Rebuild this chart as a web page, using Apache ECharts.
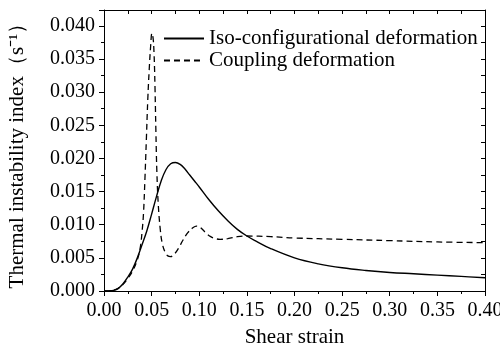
<!DOCTYPE html>
<html>
<head>
<meta charset="utf-8">
<script src="https://cdn.jsdelivr.net/npm/echarts@6/dist/echarts.min.js"></script>
<style>html,body{margin:0;padding:0;background:#fff}#c{width:500px;height:348px}</style>
</head>
<body>
<div id="c"></div>
<script>
var seriesNames = ['Iso-configurational deformation', 'Coupling deformation'];
var xTitle = 'Shear strain';
var yTitle = 'Thermal instability index\uFF08s\u207B\u00B9\uFF09';

var isoX = [0, 0.005, 0.010, 0.015, 0.020, 0.025, 0.030, 0.035, 0.040, 0.045, 0.050, 0.055, 0.060, 0.065, 0.070, 0.075, 0.080, 0.085, 0.090, 0.095, 0.100, 0.110, 0.120, 0.130, 0.140, 0.150, 0.160, 0.175, 0.200, 0.225, 0.250, 0.275, 0.300, 0.325, 0.350, 0.375, 0.400];
var isoY = [0, 0.00002, 0.0001, 0.0004, 0.0011, 0.0021, 0.0033, 0.0050, 0.0070, 0.0091, 0.0116, 0.0142, 0.0166, 0.0183, 0.0192, 0.0194, 0.0191, 0.0184, 0.0175, 0.0166, 0.0157, 0.0138, 0.0121, 0.0106, 0.0093, 0.0083, 0.0075, 0.0064, 0.0050, 0.0041, 0.0035, 0.0031, 0.0028, 0.0026, 0.0024, 0.0022, 0.0020];

var coupX = [0, 0.005, 0.010, 0.015, 0.020, 0.025, 0.030, 0.035, 0.038, 0.040, 0.0415, 0.043, 0.0445, 0.046, 0.0475, 0.049, 0.0503, 0.0515, 0.0525, 0.0535, 0.0545, 0.0555, 0.057, 0.059, 0.061, 0.064, 0.067, 0.070, 0.074, 0.078, 0.083, 0.088, 0.093, 0.097, 0.100, 0.104, 0.108, 0.112, 0.117, 0.122, 0.130, 0.140, 0.150, 0.175, 0.200, 0.250, 0.300, 0.350, 0.400];
var coupY = [0, 0.00002, 0.0001, 0.0004, 0.0010, 0.0019, 0.0030, 0.0047, 0.0065, 0.0090, 0.0118, 0.0170, 0.0230, 0.0290, 0.0335, 0.0370, 0.0389, 0.0382, 0.0360, 0.0310, 0.0240, 0.0180, 0.0130, 0.0094, 0.0073, 0.0059, 0.0053, 0.0052, 0.0056, 0.0064, 0.0077, 0.0088, 0.0095, 0.0098, 0.0097, 0.0092, 0.0086, 0.0082, 0.0079, 0.0078, 0.0079, 0.0082, 0.0083, 0.0082, 0.0080, 0.0078, 0.0076, 0.0074, 0.0073];

function zip(xs, ys) { return xs.map(function (x, i) { return [x, ys[i]]; }); }

var FONT = '"Liberation Serif", "Times New Roman", serif';
var chart = echarts.init(document.getElementById('c'), null, { renderer: 'canvas' });

function baseAxis(extra) {
  var a = {
    type: 'value',
    axisLine: { show: true, onZero: false, lineStyle: { color: '#000', width: 1 } },
    splitLine: { show: false },
    minorSplitLine: { show: false }
  };
  for (var k in extra) a[k] = extra[k];
  return a;
}

chart.setOption({
  animation: false,
  backgroundColor: '#fff',
  grid: { left: 104, right: 15, top: 10, bottom: 57, containLabel: false, outerBoundsMode: 'none' },
  legend: {
    orient: 'vertical',
    left: 163,
    top: 28,
    padding: 0,
    itemWidth: 40,
    itemHeight: 14,
    itemGap: 1,
    itemStyle: { opacity: 0 },
    textStyle: { fontFamily: FONT, fontSize: 21, color: '#000', padding: [0, 0, 0, 0] },
    data: seriesNames
  },
  xAxis: [
    baseAxis({
      position: 'bottom', min: 0, max: 0.4, interval: 0.05,
      name: xTitle, nameLocation: 'middle', nameGap: 36,
      nameTextStyle: { fontFamily: FONT, fontSize: 21, color: '#000' },
      axisTick: { show: true, inside: false, length: 5, lineStyle: { color: '#000' } },
      minorTick: { show: true, splitNumber: 2, length: 3, lineStyle: { color: '#000' } },
      axisLabel: { fontFamily: FONT, fontSize: 20, color: '#000', margin: 10,
        formatter: function (v) { return v.toFixed(2); } }
    }),
    baseAxis({
      position: 'top', min: 0, max: 0.4, interval: 0.05,
      axisTick: { show: true, inside: true, length: 4, lineStyle: { color: '#000' } },
      minorTick: { show: true, splitNumber: 2, length: 4, lineStyle: { color: '#000' } },
      axisLabel: { show: false }
    })
  ],
  yAxis: [
    baseAxis({
      position: 'left', min: 0, max: 0.0424, interval: 0.005,
      name: yTitle, nameLocation: 'middle', nameGap: 76, nameRotate: 90,
      nameTextStyle: { fontFamily: FONT, fontSize: 21, color: '#000' },
      axisTick: { show: true, inside: false, length: 5, lineStyle: { color: '#000' } },
      minorTick: { show: true, splitNumber: 2, length: 3, lineStyle: { color: '#000' } },
      axisLabel: { fontFamily: FONT, fontSize: 20, color: '#000', margin: 9, showMaxLabel: false,
        formatter: function (v) {
          var r = Math.round(v / 0.005);
          if (Math.abs(v - r * 0.005) > 1e-9) return '';
          return v.toFixed(3);
        } }
    }),
    baseAxis({
      position: 'right', min: 0, max: 0.0424, interval: 0.005,
      axisTick: { show: true, inside: true, length: 4, lineStyle: { color: '#000' } },
      minorTick: { show: true, splitNumber: 2, length: 4, lineStyle: { color: '#000' } },
      axisLabel: { show: false }
    })
  ],
  series: [
    {
      name: seriesNames[0], type: 'line', xAxisIndex: 0, yAxisIndex: 0,
      data: zip(isoX, isoY), symbol: 'none', showSymbol: false,
      smooth: 0.4,
      lineStyle: { color: '#000', width: 1.4, type: 'solid' },
      itemStyle: { color: '#000' }
    },
    {
      name: seriesNames[1], type: 'line', xAxisIndex: 0, yAxisIndex: 0,
      data: zip(coupX, coupY), symbol: 'none', showSymbol: false,
      smooth: 0.4,
      lineStyle: { color: '#000', width: 1.3, type: [6, 4] },
      itemStyle: { color: '#000' }
    }
  ]
});
</script>
</body>
</html>
